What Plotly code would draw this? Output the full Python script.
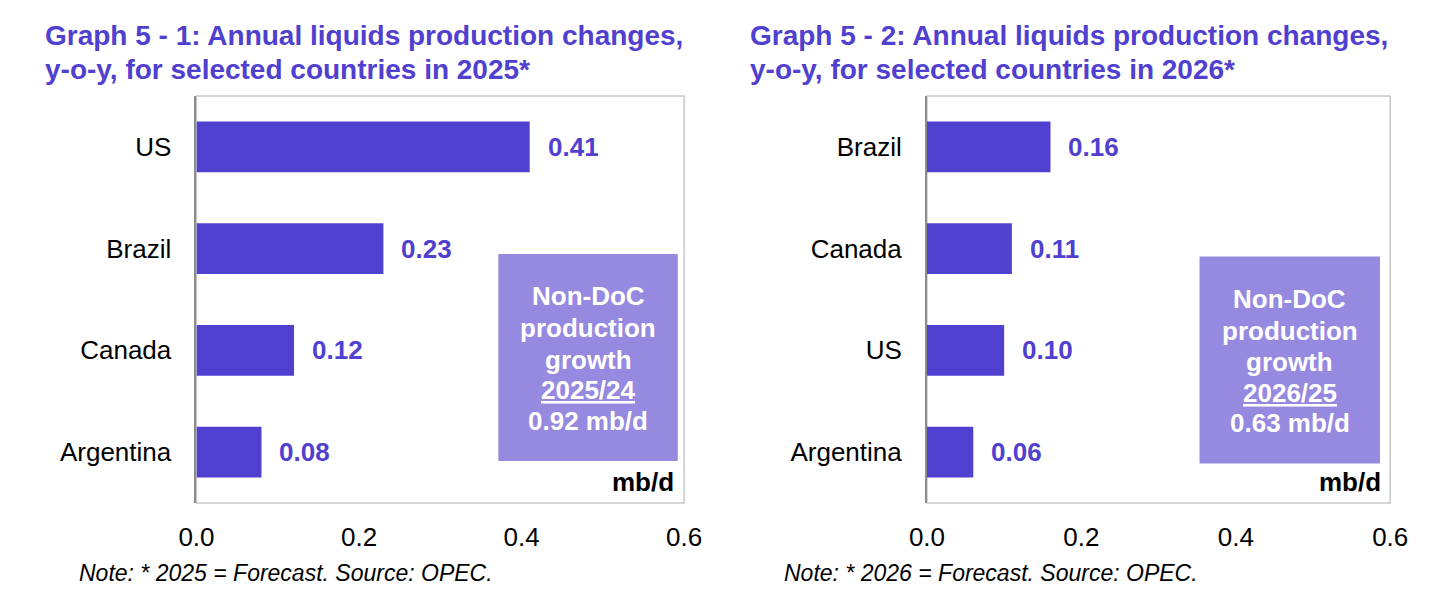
import plotly.graph_objects as go

# ---- data ----
cats_2025 = ["US", "Brazil", "Canada", "Argentina"]
vals_2025 = [0.41, 0.23, 0.12, 0.08]
cats_2026 = ["Brazil", "Canada", "US", "Argentina"]
vals_2026 = [0.16, 0.11, 0.10, 0.06]
x_ticks = [0.0, 0.2, 0.4, 0.6]
x_tick_labels = ["0.0", "0.2", "0.4", "0.6"]
title_1 = ["Graph 5 - 1: Annual liquids production changes,", "y-o-y, for selected countries in 2025*"]
title_2 = ["Graph 5 - 2: Annual liquids production changes,", "y-o-y, for selected countries in 2026*"]
box_1 = ["Non-DoC", "production", "growth", "<u>2025/24</u>", "0.92 mb/d"]
box_2 = ["Non-DoC", "production", "growth", "<u>2026/25</u>", "0.63 mb/d"]
note_1 = "Note: * 2025 = Forecast. Source: OPEC."
note_2 = "Note: * 2026 = Forecast. Source: OPEC."
unit = "mb/d"

W, H = 1456, 602
BAR = "#5040D0"
TITLE = "#5040D0"
BOX = "#9689E0"
FONT = "Liberation Sans, Arial, sans-serif"

def px(x):
    return x / W

def py(y):
    return 1 - y / H

dom1 = [px(183), px(683)]
dom2 = [px(932), px(1407)]
ydom = [py(503), py(96)]

fig = go.Figure()

fig.add_trace(go.Bar(x=vals_2025, y=cats_2025, orientation="h",
                     marker=dict(color=BAR, line=dict(width=0)),
                     xaxis="x", yaxis="y", hoverinfo="skip", showlegend=False))
fig.add_trace(go.Bar(x=vals_2026, y=cats_2026, orientation="h",
                     marker=dict(color=BAR, line=dict(width=0)),
                     xaxis="x2", yaxis="y2", hoverinfo="skip", showlegend=False))

xcommon = dict(range=[0, 0.6], tickvals=x_ticks, ticktext=x_tick_labels,
               showgrid=False, zeroline=False, showline=False, ticks="",
               tickfont=dict(family=FONT, size=26, color="black"),
               ticklabelstandoff=16, fixedrange=True)
ycommon = dict(showgrid=False, zeroline=False, ticks="",
               showline=True, linecolor="#8C8C8C", linewidth=2,
               tickfont=dict(family=FONT, size=26, color="black"),
               ticklabelstandoff=18, fixedrange=True, range=[3.5, -0.5])

fig.update_layout(
    width=W, height=H,
    margin=dict(l=0, r=0, t=0, b=0),
    paper_bgcolor="white", plot_bgcolor="white",
    bargap=0.5,
    xaxis=dict(domain=dom1, anchor="y", **xcommon),
    yaxis=dict(domain=ydom, anchor="x", categoryorder="array",
               categoryarray=cats_2025, **ycommon),
    xaxis2=dict(domain=dom2, anchor="y2", **xcommon),
    yaxis2=dict(domain=ydom, anchor="x2", categoryorder="array",
                categoryarray=cats_2026, **ycommon),
)

# frames
for xr, yr in (("x domain", "y domain"), ("x2 domain", "y2 domain")):
    fig.add_shape(type="rect", xref=xr, yref=yr, x0=0, x1=1, y0=0, y1=1,
                  line=dict(color="#C8C8C8", width=1.5), layer="below")

anns = []
# value labels
for xa, ya, cats, vals in (("x", "y", cats_2025, vals_2025), ("x2", "y2", cats_2026, vals_2026)):
    for c, v in zip(cats, vals):
        anns.append(dict(x=v, y=c, xref=xa, yref=ya, text=f"<b>{v:.2f}</b>",
                         showarrow=False, xanchor="left", xshift=16,
                         font=dict(family=FONT, size=26, color=BAR)))

# titles (one annotation per line for tight line spacing)
for xt, lines in ((26, title_1), (749, title_2)):
    for yc, t in zip((36, 69), lines):
        anns.append(dict(x=px(xt), y=py(yc), xref="paper", yref="paper",
                         text=f"<b>{t}</b>", showarrow=False, xanchor="left", yanchor="middle",
                         font=dict(family=FONT, size=28, color=TITLE)))

# notes
for xt, t in ((61, note_1), (783, note_2)):
    anns.append(dict(x=px(xt), y=py(573), xref="paper", yref="paper",
                     text=f"<i>{t}</i>", showarrow=False, xanchor="left", yanchor="middle",
                     font=dict(family=FONT, size=23, color="black")))

# unit labels
for xr_px in (675, 1400):
    anns.append(dict(x=px(xr_px), y=py(482), xref="paper", yref="paper", text=f"<b>{unit}</b>",
                     showarrow=False, xanchor="right", yanchor="middle",
                     font=dict(family=FONT, size=26, color="black")))

# boxes
offsets = [-61, -29.5, 2, 32.5, 63]
for (x0, x1, y0, y1, lines) in ((492.5, 676.5, 254, 461, box_1), (1211.5, 1396.5, 256.5, 463.5, box_2)):
    fig.add_shape(type="rect", xref="paper", yref="paper",
                  x0=px(x0), x1=px(x1), y0=py(y1), y1=py(y0),
                  fillcolor=BOX, line=dict(width=0), layer="above")
    cy = (y0 + y1) / 2
    for off, t in zip(offsets, lines):
        anns.append(dict(x=px((x0 + x1) / 2), y=py(cy + off), xref="paper", yref="paper",
                         text=f"<b>{t}</b>", showarrow=False, xanchor="center", yanchor="middle",
                         font=dict(family=FONT, size=26, color="white")))

fig.update_layout(annotations=anns)
fig.write_html("out.html", config={"displayModeBar": False},
               post_script="document.body.style.margin='0px';")
